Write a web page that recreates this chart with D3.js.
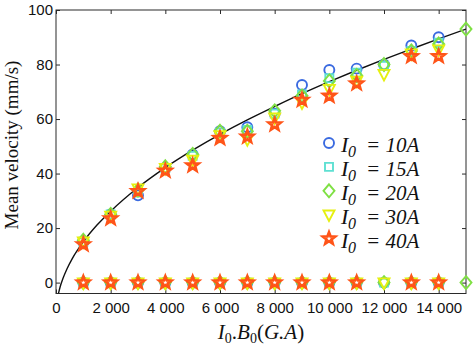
<!DOCTYPE html>
<html><head><meta charset="utf-8">
<script src="https://cdn.jsdelivr.net/npm/d3@7"></script>
<style>
html,body{margin:0;padding:0;background:#fff;}
svg{display:block;}
.tick text{font-family:"Liberation Sans",Arial,sans-serif;font-size:15px;fill:#111;}
</style></head>
<body>
<svg id="chart" width="474" height="345"></svg>
<script>
// ---- data ----
const xValues = [1000,2000,3000,4000,5000,6000,7000,8000,9000,10000,11000,12000,13000,14000,15000];
const v10 = [15,25,32,42,47,55.5,57,62,72.5,78,78.5,80,87,90,null];
const v15 = [15,25,33,42,46.5,55,56,62,69,75,77,79.5,85,88,null];
const v20 = [15.5,25,34,42.5,47,55.5,55.5,63,68.5,74,76,80,85,87.5,93];
const v30 = [15,24.5,34.5,42,45,54,52.5,60.5,66,71,74,76.5,84,85.5,null];
const v40 = [14,23.5,33.5,41,43,53,53.5,58,67,68.5,73,null,83,83,null];
const z10 = [0,0,0,0,0,0,0,0,0,0,0,0,0,0,null];
const z15 = [0,0,0,0,0,0,0,0,0,0,0,0,0,0,null];
const z20 = [0,0,0,0,0,0,0,0,0,0,0,0,0,0,0];
const z30 = [0,0,0,0,0,0,0,0,0,0,0,0,0,0,null];
const z40 = [0,0,0,0,0,0,0,0,0,0,0,null,0,0,null];
const fitX = [90,150,250,400,600,1000,1500,2000,3000,4000,5000,6000,7000,8000,9000,10000,11000,12000,13000,14000,15000];
const fitY = [-4.0,-1.6,1.4,5.0,8.9,15.0,21.1,26.2,34.9,42.2,48.6,54.4,59.7,64.6,69.3,73.7,77.9,81.9,85.7,89.4,93.0];
const seriesLabels = ["10A","15A","20A","30A","40A"];
const xTicks = [0,2000,4000,6000,8000,10000,12000,14000];
const yTicks = [0,20,40,60,80,100];

// ---- layout ----
const L=56, R=466, T=10, B=293.5;
const svg = d3.select("#chart");
const x = d3.scaleLinear().domain([0,15000]).range([L,R]);
const y = d3.scaleLinear().domain([-4,100]).range([B,T]);

const fmt = d3.formatLocale({decimal:".",thousands:" ",grouping:[3],currency:["",""]}).format(",");

// axes
const axCol="#2a2a2a";
const gB = svg.append("g").attr("transform",`translate(0,${B})`)
  .call(d3.axisBottom(x).tickValues(xTicks).tickSize(-4).tickPadding(9).tickFormat(fmt));
const gT = svg.append("g").attr("transform",`translate(0,${T})`)
  .call(d3.axisTop(x).tickValues(xTicks).tickSize(-4).tickFormat(""));
const gLf = svg.append("g").attr("transform",`translate(${L},0)`)
  .call(d3.axisLeft(y).tickValues(yTicks).tickSize(-4).tickPadding(3));
const gRt = svg.append("g").attr("transform",`translate(${R},0)`)
  .call(d3.axisRight(y).tickValues(yTicks).tickSize(-4).tickFormat(""));
[gB,gT,gLf,gRt].forEach(g=>{g.select(".domain").remove();g.selectAll("line").attr("stroke",axCol);});
gB.selectAll("text").attr("font-size",15);
gLf.selectAll("text").attr("font-size",15);
svg.append("rect").attr("x",L).attr("y",T).attr("width",R-L).attr("height",B-T)
  .attr("fill","none").attr("stroke",axCol).attr("stroke-width",1);

// clip
svg.append("clipPath").attr("id","clip").append("rect").attr("x",L).attr("y",T).attr("width",R-L).attr("height",B-T);

// fit curve
const fitData = fitX.map((d,i)=>[d,fitY[i]]);
svg.append("path").datum(fitData).attr("clip-path","url(#clip)")
  .attr("fill","none").attr("stroke","#111").attr("stroke-width",1.4)
  .attr("d",d3.line().x(d=>x(d[0])).y(d=>y(d[1])).curve(d3.curveMonotoneX));

// marker shapes
function starPath(Ro,Ri){let p=[];for(let k=0;k<10;k++){const a=-Math.PI/2+k*Math.PI/5;const r=k%2?Ri:Ro;p.push([r*Math.cos(a),r*Math.sin(a)]);}return "M"+p.map(q=>q[0].toFixed(2)+","+q[1].toFixed(2)).join("L")+"Z";}
const shapes = [
  {col:"#3a6ae0", d:"M5,0A5,5 0 1,1 -5,0A5,5 0 1,1 5,0Z", fill:"none", sw:1.9},
  {col:"#5ee0d2", d:"M-4,-4H4V4H-4Z", fill:"none", sw:1.9},
  {col:"#7fe044", d:"M0,-6.5L5.5,0L0,6.5L-5.5,0Z", fill:"none", sw:1.9},
  {col:"#e6f010", d:"M-5.5,-4.2L5.5,-4.2L0,6.3Z", fill:"none", sw:1.9},
  {col:"#ff5418", d:starPath(6.2,2.6), fill:"none", sw:2.8}
];
const upper=[v10,v15,v20,v30,v40], zero=[z10,z15,z20,z30,z40];
const plotG = svg.append("g");
shapes.forEach((s,i)=>{
  const pts=[];
  upper[i].forEach((v,j)=>{if(v!=null)pts.push([xValues[j],v]);});
  zero[i].forEach((v,j)=>{if(v!=null)pts.push([xValues[j],v]);});
  plotG.append("g").selectAll("path").data(pts).join("path")
    .attr("d",s.d).attr("transform",d=>`translate(${x(d[0])},${y(d[1])})`)
    .attr("fill",s.fill).attr("stroke",s.col).attr("stroke-width",s.sw).attr("stroke-linejoin","miter");
});

// legend
const lg = svg.append("g");
const serif = "'Liberation Serif','Times New Roman',serif";
seriesLabels.forEach((lab,i)=>{
  const cy = 143 + 23.9*i;
  const s = shapes[i];
  lg.append("path").attr("d",s.d).attr("transform",`translate(329,${cy})`)
    .attr("fill",s.fill).attr("stroke",s.col).attr("stroke-width",s.sw);
  const t = lg.append("text").attr("x",341).attr("y",cy+9).attr("font-family",serif).attr("font-style","italic")
    .attr("font-size",22).attr("fill","#111");
  t.append("tspan").text("I");
  t.append("tspan").attr("x",348).attr("dy",5).attr("font-size",16).text("0");
  t.append("tspan").attr("x",366).attr("dy",-5).attr("font-size",21).text("= "+lab);
});

// axis titles
svg.append("text").attr("transform","translate(18,145) rotate(-90)").attr("text-anchor","middle")
  .attr("font-family",serif).attr("font-size",19).attr("fill","#111").text("Mean velocity (mm/s)");
const xt = svg.append("text").attr("x",261).attr("y",339).attr("text-anchor","middle")
  .attr("font-family",serif).attr("font-size",21).attr("fill","#111");
xt.append("tspan").attr("font-style","italic").text("I");
xt.append("tspan").attr("font-size",14).attr("dy",4).text("0");
xt.append("tspan").attr("dy",-4).text(".");
xt.append("tspan").attr("font-style","italic").text("B");
xt.append("tspan").attr("font-size",14).attr("dy",4).text("0");
xt.append("tspan").attr("dy",-4).text("(");
xt.append("tspan").attr("font-style","italic").text("G.A");
xt.append("tspan").text(")");
</script>
</body></html>
